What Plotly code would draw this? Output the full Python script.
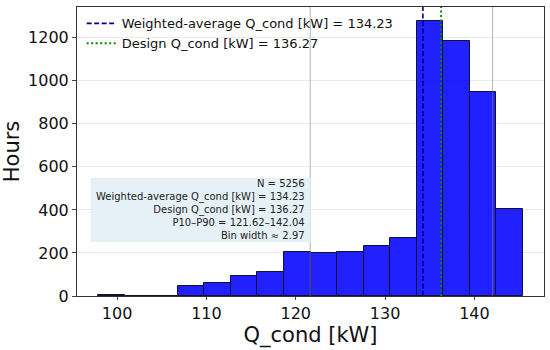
import plotly.graph_objects as go

# ---- data ----
bin_start = 97.89
bin_width = 2.97
counts = [3, 2, 0, 47, 60, 93, 110, 205, 200, 203, 232, 270, 1279, 1186, 949, 405]
weighted_avg = 134.23
design_q = 136.27
p10 = 121.62
p90 = 142.04
n_hours = 5256

x_ticks = [100, 110, 120, 130, 140]
y_ticks = [0, 200, 400, 600, 800, 1000, 1200]

edges = [bin_start + i * bin_width for i in range(len(counts) + 1)]
centers = [(edges[i] + edges[i + 1]) / 2 for i in range(len(counts))]

x_span = edges[-1] - edges[0]
x_range = [edges[0] - 0.05 * x_span, edges[-1] + 0.05 * x_span]
y_top = max(counts) * 1.05

fig = go.Figure()
fig.add_trace(go.Bar(
    x=centers, y=counts, width=bin_width,
    marker=dict(color="rgba(0,0,255,0.87)", line=dict(color="#111133", width=1)),
    showlegend=False, hoverinfo="x+y",
))

# P10 / P90 reference lines
for v in (p10, p90):
    fig.add_shape(type="line", x0=v, x1=v, y0=0, y1=1, xref="x", yref="paper",
                  line=dict(color="rgba(130,130,130,0.6)", width=1), layer="above")

fig.add_trace(go.Scatter(
    x=[weighted_avg, weighted_avg], y=[0, y_top], mode="lines",
    line=dict(color="#00008b", width=1.6, dash="5px,2.5px"),
    name=f"Weighted-average Q_cond [kW] = {weighted_avg:.2f}",
))
fig.add_trace(go.Scatter(
    x=[design_q, design_q], y=[0, y_top], mode="lines",
    line=dict(color="#008a00", width=2, dash="2px,2.5px"),
    name=f"Design Q_cond [kW] = {design_q:.2f}",
))

# stats box
fig.add_shape(type="rect", xref="paper", yref="paper",
              x0=0.029, x1=0.501, y0=0.187, y1=0.408,
              fillcolor="rgba(225,238,245,0.85)", line=dict(width=0), layer="above")
box_text = "<br>".join([
    f"N = {n_hours}",
    f"Weighted-average Q_cond [kW] = {weighted_avg:.2f}",
    f"Design Q_cond [kW] = {design_q:.2f}",
    f"P10–P90 = {p10:.2f}–{p90:.2f}",
    f"Bin width ≈ {bin_width:.2f}",
])
fig.add_annotation(
    text=box_text, xref="paper", yref="paper", x=0.4925, y=0.2976,
    xanchor="right", yanchor="middle", align="right", showarrow=False,
    font=dict(family="DejaVu Sans", size=10, color="#222"),
)

fig.update_layout(
    width=550, height=350,
    margin=dict(l=77, r=6, t=7, b=54),
    plot_bgcolor="white", paper_bgcolor="white",
    font=dict(family="DejaVu Sans", color="#111"),
    bargap=0,
    legend=dict(x=0.01, y=0.995, xanchor="left", yanchor="top",
                bgcolor="rgba(255,255,255,0)", font=dict(size=13),
                tracegroupgap=0),
    xaxis=dict(
        range=x_range, tickvals=x_ticks, ticks="outside", ticklen=3,
        showgrid=False, zeroline=False, showline=True, linecolor="#333",
        linewidth=1, mirror=True, tickfont=dict(size=16), automargin=False,
        title=dict(text="Q_cond [kW]", font=dict(size=21), standoff=0),
    ),
    yaxis=dict(
        range=[0, y_top], tickvals=y_ticks, ticks="outside", ticklen=4,
        showgrid=True, gridcolor="rgba(0,0,0,0.08)", zeroline=False,
        showline=True, linecolor="#333", linewidth=1, mirror=True,
        tickfont=dict(size=16), layer="above traces", automargin=False,
        title=dict(text="Hours", font=dict(size=21), standoff=2),
    ),
)

fig.write_html("out.html", config={"displayModeBar": False},
               post_script="document.body.style.margin='0px';document.body.style.overflow='hidden';")
